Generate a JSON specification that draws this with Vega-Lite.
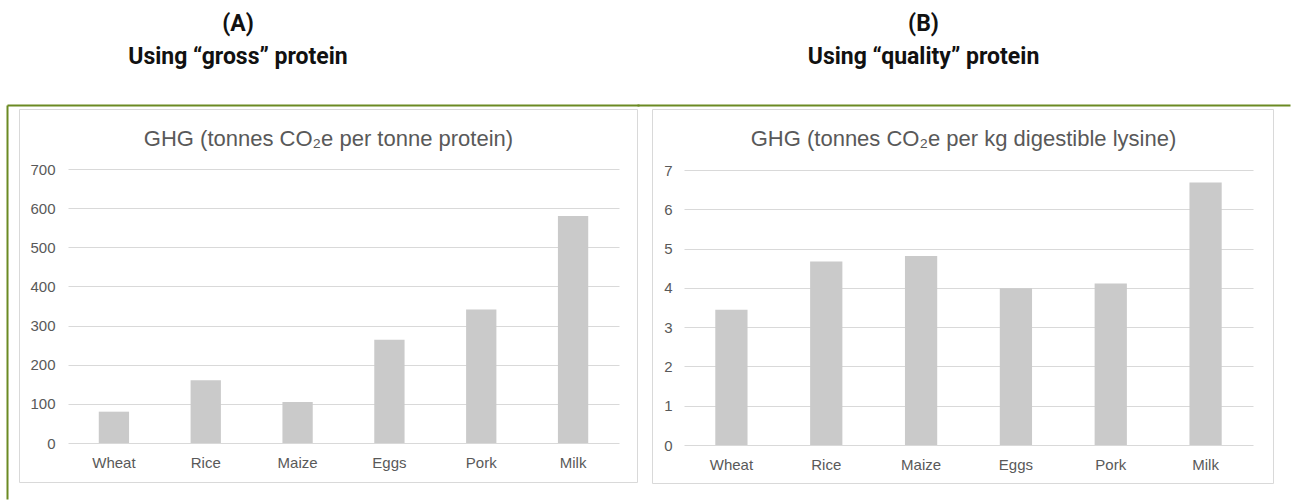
{
  "$schema": "https://vega.github.io/schema/vega-lite/v6.json",
  "padding": {"left": 6, "top": 12, "right": 0, "bottom": 0},
  "background": "white",
  "datasets": {
    "gross": [
      {"crop": "Wheat", "value": 80},
      {"crop": "Rice", "value": 160},
      {"crop": "Maize", "value": 105},
      {"crop": "Eggs", "value": 264},
      {"crop": "Pork", "value": 341},
      {"crop": "Milk", "value": 580}
    ],
    "quality": [
      {"crop": "Wheat", "value": 3.44},
      {"crop": "Rice", "value": 4.67},
      {"crop": "Maize", "value": 4.81},
      {"crop": "Eggs", "value": 3.99},
      {"crop": "Pork", "value": 4.11},
      {"crop": "Milk", "value": 6.68}
    ]
  },
  "config": {
    "view": {"stroke": "#d9d9d9", "strokeWidth": 1, "fill": "white"},
    "font": "Liberation Sans",
    "axis": {
      "labelFont": "Liberation Sans",
      "labelFontSize": 15,
      "labelColor": "#595959",
      "ticks": false,
      "domain": false,
      "gridColor": "#d9d9d9",
      "gridWidth": 1,
      "minExtent": 0
    }
  },
  "spacing": 15,
  "bounds": "flush",
  "hconcat": [
    {
      "width": 618,
      "height": 373,
      "title": {
        "text": ["(A)", "Using “gross” protein"],
        "font": "Roboto",
        "fontSize": 23,
        "fontWeight": "bold",
        "color": "#111111",
        "lineHeight": 33,
        "anchor": "middle",
        "frame": "group",
        "dx": -90,
        "offset": 36
      },
      "data": {"name": "gross"},
      "layer": [
        {
          "mark": {"type": "bar", "color": "#cacaca"},
          "encoding": {
            "x": {
              "field": "crop", "type": "nominal", "sort": null,
              "scale": {"range": [49, 600], "paddingInner": 0.67, "paddingOuter": 0.335},
              "axis": {"title": null, "labelAngle": 0, "offset": -39, "labelPadding": 12, "grid": false}
            },
            "y": {
              "field": "value", "type": "quantitative",
              "scale": {"domain": [0, 700], "range": [334, 60], "nice": false},
              "axis": {"title": null, "values": [0, 100, 200, 300, 400, 500, 600, 700], "offset": -49, "labelPadding": 13, "grid": true}
            }
          }
        },
        {
          "mark": {"type": "point", "opacity": 0},
          "encoding": {
            "x": {
              "field": "value", "type": "quantitative",
              "scale": {"range": [-12, 620]},
              "axis": {
                "orient": "top", "offset": 4, "domain": true, "domainColor": "#6b8a23", "domainWidth": 2,
                "labels": false, "ticks": false, "grid": false,
                "title": "GHG (tonnes CO₂e per tonne protein)",
                "titleFont": "Liberation Sans", "titleFontSize": 22, "titleFontWeight": "normal", "titleColor": "#595959",
                "titleX": 309, "titleY": 33, "titleAlign": "center", "titleBaseline": "middle", "titleAngle": 0
              }
            },
            "y": {
              "field": "value", "type": "quantitative",
              "scale": {"range": [390, -4]},
              "axis": {"orient": "left", "offset": 12, "domain": true, "domainColor": "#6b8a23", "domainWidth": 2, "labels": false, "ticks": false, "grid": false, "title": null}
            }
          }
        }
      ],
      "resolve": {"scale": {"x": "independent", "y": "independent"}}
    },
    {
      "width": 621,
      "height": 374,
      "title": {
        "text": ["(B)", "Using “quality” protein"],
        "font": "Roboto",
        "fontSize": 23,
        "fontWeight": "bold",
        "color": "#111111",
        "lineHeight": 33,
        "anchor": "middle",
        "frame": "group",
        "dx": -39,
        "offset": 36
      },
      "data": {"name": "quality"},
      "layer": [
        {
          "mark": {"type": "bar", "color": "#cacaca"},
          "encoding": {
            "x": {
              "field": "crop", "type": "nominal", "sort": null,
              "scale": {"range": [32, 601], "paddingInner": 0.66, "paddingOuter": 0.33},
              "axis": {"title": null, "labelAngle": 0, "offset": -38, "labelPadding": 12, "grid": false}
            },
            "y": {
              "field": "value", "type": "quantitative",
              "scale": {"domain": [0, 7], "range": [336, 61], "nice": false},
              "axis": {"title": null, "values": [0, 1, 2, 3, 4, 5, 6, 7], "offset": -32, "labelPadding": 12, "grid": true}
            }
          }
        },
        {
          "mark": {"type": "point", "opacity": 0},
          "encoding": {
            "x": {
              "field": "value", "type": "quantitative",
              "scale": {"range": [-15, 638]},
              "axis": {
                "orient": "top", "offset": 4, "domain": true, "domainColor": "#6b8a23", "domainWidth": 2,
                "labels": false, "ticks": false, "grid": false,
                "title": "GHG (tonnes CO₂e per kg digestible lysine)",
                "titleFont": "Liberation Sans", "titleFontSize": 22, "titleFontWeight": "normal", "titleColor": "#595959",
                "titleX": 311, "titleY": 33, "titleAlign": "center", "titleBaseline": "middle", "titleAngle": 0
              }
            }
          }
        }
      ],
      "resolve": {"scale": {"x": "independent"}}
    }
  ]
}
